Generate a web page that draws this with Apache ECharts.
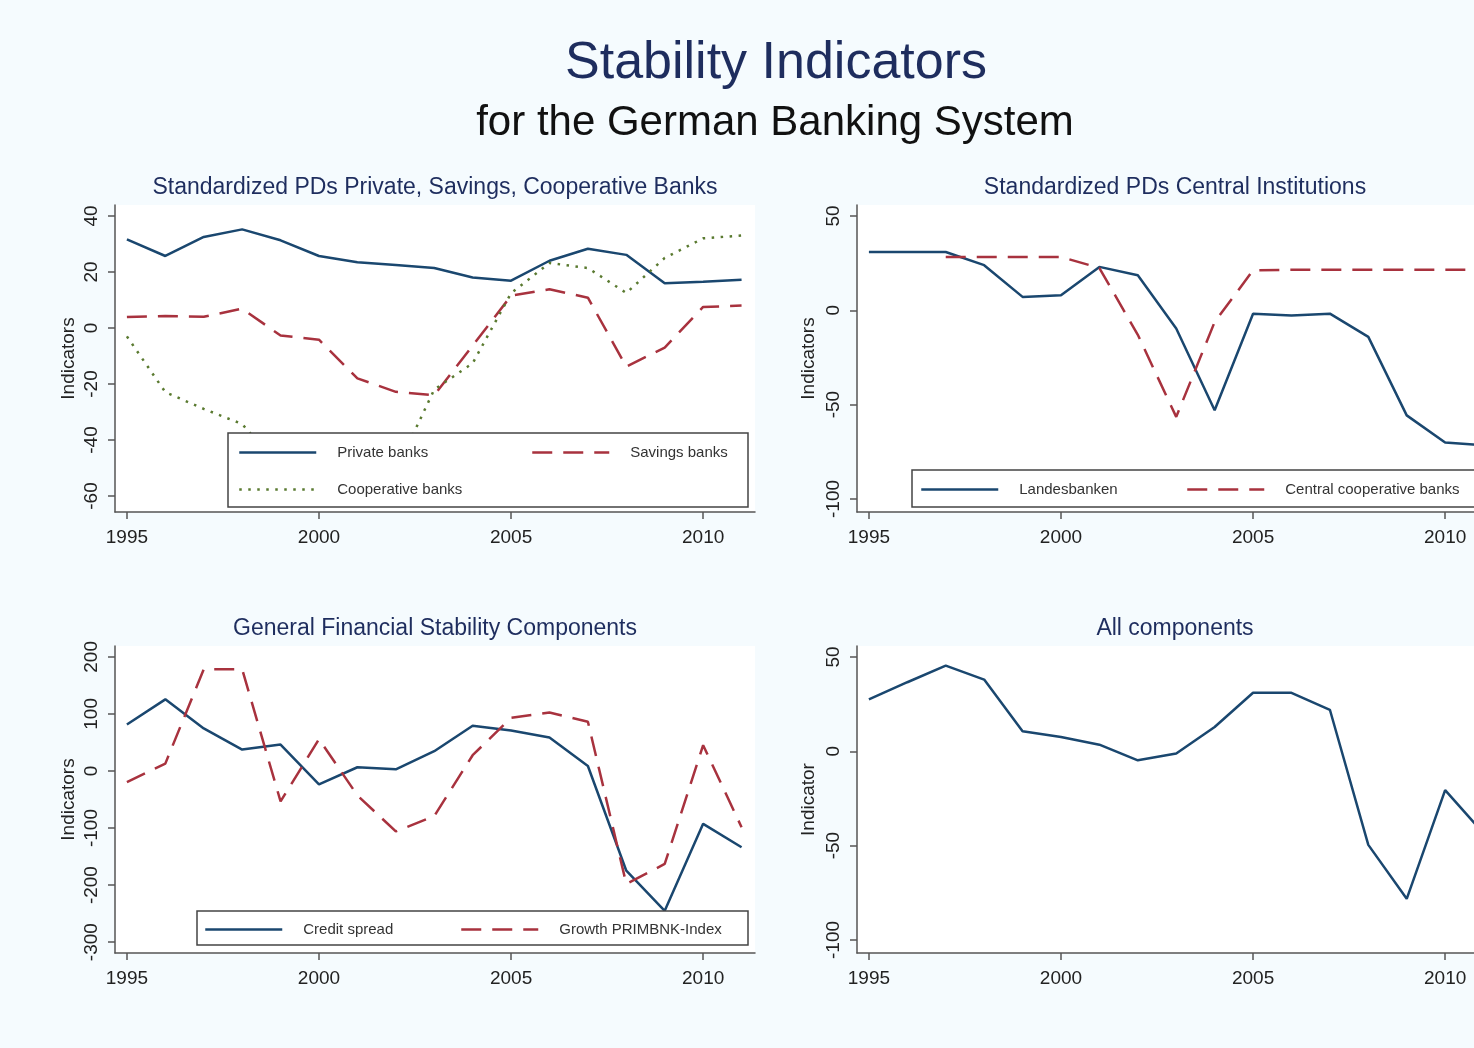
<!DOCTYPE html>
<html><head><meta charset="utf-8">
<script src="https://cdn.jsdelivr.net/npm/echarts@6/dist/echarts.min.js"></script>
<style>html,body{margin:0;padding:0;background:#f5fbfe;overflow:hidden}#c{width:1500px;height:1048px}</style>
</head><body><div id="c"></div>
<script>
// ---- data ----
const years = [1995,1996,1997,1998,1999,2000,2001,2002,2003,2004,2005,2006,2007,2008,2009,2010,2011];
const xTicks = [1995,2000,2005,2010];

// Panel 1: Standardized PDs Private, Savings, Cooperative Banks
const privateBanks     = [31.6,25.7,32.5,35.2,31.3,25.7,23.5,22.5,21.4,18.0,16.9,24.0,28.3,26.1,16.0,16.5,17.2];
const savingsBanks     = [3.9,4.3,4.0,6.9,-2.7,-4.2,-18.0,-22.8,-24.0,-6.3,11.5,13.8,10.8,-13.8,-7.0,7.5,8.0];
const cooperativeBanks = [-3.0,-22.9,-28.9,-34.3,-50.0,-55.0,-56.0,-51.0,-22.0,-12.6,12.4,23.2,21.4,12.5,25.0,32.0,33.0];
const yTicks1 = [-60,-40,-20,0,20,40];

// Panel 2: Standardized PDs Central Institutions
const landesbanken      = [30.9,30.9,30.9,23.9,7.1,8.0,23.0,18.6,-9.7,-53.0,-1.8,-2.7,-1.8,-14.1,-55.7,-70.1,-71.5];
const centralCoopBanks  = [null,null,28.3,28.3,28.3,28.3,22.4,-13.0,-56.5,-6.2,21.2,21.5,21.5,21.5,21.5,21.5,21.5];
const yTicks2 = [-100,-50,0,50];

// Panel 3: General Financial Stability Components
const creditSpread = [81.5,125.5,74.5,37.5,46.3,-23.5,6.5,3.0,34.6,79.2,71.0,58.7,8.8,-174.8,-245.0,-92.7,-133.7];
const growthPrimbnk = [-19.4,12.9,178.3,178.3,-53.4,55.7,-42.8,-106.0,-79.0,27.6,93.3,102.6,86.2,-198.0,-163.0,45.2,-98.5];
const yTicks3 = [-300,-200,-100,0,100,200];

// Panel 4: All components
const allComponents = [27.5,36.6,45.4,38.0,10.6,7.6,3.5,-4.8,-1.2,12.9,31.0,31.0,22.0,-49.6,-78.2,-20.6,-43.5];
const yTicks4 = [-100,-50,0,50];

// ---- styling ----
const FONT = 'Liberation Sans, Arial, sans-serif';
const NAVY = '#1a476f', RED = '#a8323e', GREEN = '#5a7a30', AXIS = '#555';
const pairs = arr => years.map((y,i)=>[y, arr[i]]);

const grids = [
  {left:115, top:205, width:640, height:307},
  {left:857, top:205, width:640, height:307},
  {left:115, top:646, width:640, height:307},
  {left:857, top:646, width:640, height:307}
].map(g => Object.assign({show:true, backgroundColor:'#ffffff', borderWidth:0}, g));

function xAx(i){
  return {type:'value', gridIndex:i, min:1994.69, max:2011.35,
    axisLine:{show:true, onZero:false, lineStyle:{color:AXIS, width:1.5}},
    axisTick:{show:true, length:7, customValues:xTicks, lineStyle:{color:AXIS, width:1.5}},
    axisLabel:{customValues:xTicks, fontSize:19, color:'#222', margin:16, fontFamily:FONT,
      formatter: v => String(v)},
    splitLine:{show:false}};
}
function yAx(i, min, max, ticks, name, gap){
  return {type:'value', gridIndex:i, min:min, max:max, position:'left',
    name:name, nameLocation:'middle', nameGap:gap, nameRotate:90,
    nameTextStyle:{fontSize:19, color:'#222', fontFamily:FONT},
    axisLine:{show:true, onZero:false, lineStyle:{color:AXIS, width:1.5}},
    axisTick:{show:true, length:7, customValues:ticks, lineStyle:{color:AXIS, width:1.5}},
    axisLabel:{customValues:ticks, rotate:90, fontSize:19, color:'#222', margin:14, fontFamily:FONT},
    splitLine:{show:false}};
}

function line(name, data, xi, color, type){
  return {type:'line', name:name, xAxisIndex:xi, yAxisIndex:xi, data:pairs(data),
    symbol:'none', smooth:false, connectNulls:false, z:2,
    lineStyle:{color:color, width:2.5, type:type}, itemStyle:{color:color}};
}

function lg(name, left, top){
  return {data:[name], left:left, top:top, padding:0, orient:'horizontal',
    itemWidth:77, itemHeight:14, selectedMode:false, z:30,
    itemStyle:{opacity:0},
    lineStyle:{width:2.5},
    textStyle:{fontSize:15, color:'#333', fontFamily:FONT, padding:[0,0,0,16]}};
}

function ttl(text, x, top, size, color){
  return {text:text, left:x, top:top, textAlign:'center', padding:0,
    textStyle:{fontSize:size, fontWeight:'normal', color:color, fontFamily:FONT}};
}

const option = {
  backgroundColor:'#f5fbfe',
  animation:false,
  title:[
    ttl('Stability Indicators', 776, 38, 52, '#1e2d5e'),
    ttl('for the German Banking System', 775, 102, 42, '#111111'),
    ttl('Standardized PDs Private, Savings, Cooperative Banks', 435, 176, 23, '#1e2d5e'),
    ttl('Standardized PDs Central Institutions', 1175, 176, 23, '#1e2d5e'),
    ttl('General Financial Stability Components', 435, 617, 23, '#1e2d5e'),
    ttl('All components', 1175, 617, 23, '#1e2d5e')
  ],
  grid: grids,
  xAxis:[xAx(0), xAx(1), xAx(2), xAx(3)],
  yAxis:[
    yAx(0, -65.7, 43.9, yTicks1, 'Indicators', 37),
    yAx(1, -106.9, 55.8, yTicks2, 'Indicators', 39),
    yAx(2, -319, 219, yTicks3, 'Indicators', 37),
    yAx(3, -106.9, 55.8, yTicks4, 'Indicator', 39)
  ],
  legend:[
    lg('Private banks', 238, 445),
    lg('Savings banks', 531, 445),
    lg('Cooperative banks', 238, 482),
    lg('Landesbanken', 920, 482),
    lg('Central cooperative banks', 1186, 482),
    lg('Credit spread', 204, 922),
    lg('Growth PRIMBNK-Index', 460, 922)
  ],
  graphic:[
    {type:'rect', z:10, shape:{x:228, y:433, width:520, height:74}, style:{fill:'#ffffff', stroke:'#444', lineWidth:1.5}},
    {type:'rect', z:10, shape:{x:912, y:470, width:620, height:37}, style:{fill:'#ffffff', stroke:'#444', lineWidth:1.5}},
    {type:'rect', z:10, shape:{x:197, y:911, width:551, height:34}, style:{fill:'#ffffff', stroke:'#444', lineWidth:1.5}}
  ],
  series:[
    line('Private banks', privateBanks, 0, NAVY, 'solid'),
    line('Savings banks', savingsBanks, 0, RED, [20,11]),
    line('Cooperative banks', cooperativeBanks, 0, GREEN, [2.5,6.5]),
    line('Landesbanken', landesbanken, 1, NAVY, 'solid'),
    line('Central cooperative banks', centralCoopBanks, 1, RED, [20,11]),
    line('Credit spread', creditSpread, 2, NAVY, 'solid'),
    line('Growth PRIMBNK-Index', growthPrimbnk, 2, RED, [20,11]),
    line('All components', allComponents, 3, NAVY, 'solid')
  ]
};
const chart = echarts.init(document.getElementById('c'));
chart.setOption(option);
</script>
</body></html>
